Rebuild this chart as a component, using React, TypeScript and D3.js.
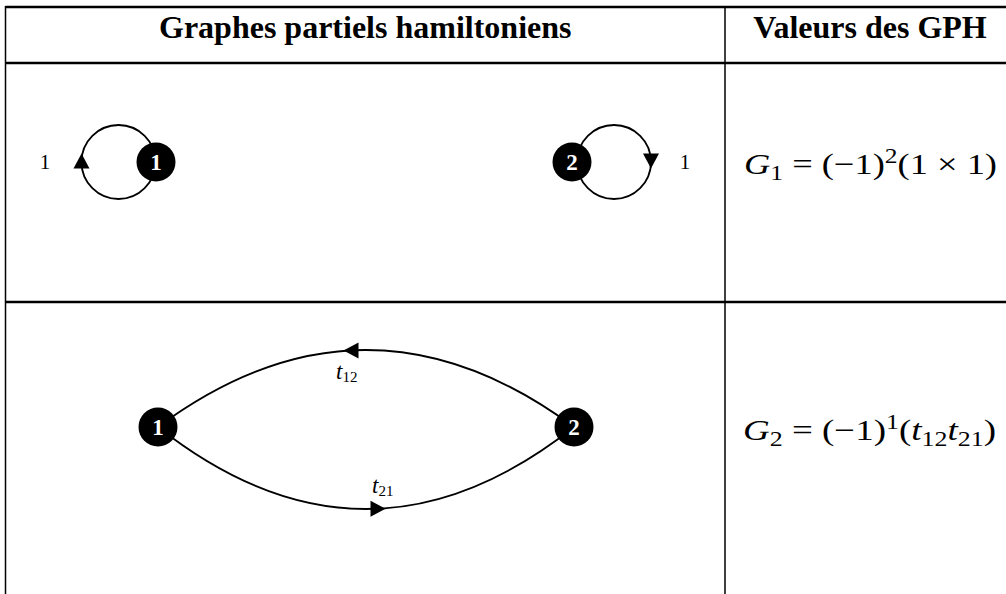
import React from "react";
import * as d3 from "d3";

// ---- data ----
const headers = ["Graphes partiels hamiltoniens", "Valeurs des GPH"];
const row1Nodes = ["1", "2"];
const row1LoopWeights = ["1", "1"];
const row2Nodes = ["1", "2"];
const row2Edges = [
  { from: "2", to: "1", name: "t", sub: "12", side: "top" },
  { from: "1", to: "2", name: "t", sub: "21", side: "bottom" },
];
const formulaNames = ["G", "G"];
const formulaSubs = ["1", "2"];
const formulaExps = ["2", "1"];

const W = 1006;
const H = 594;

// table layout
const xLeft = 5.5;
const xDiv = 725;
const xRight = 1015;
const yTop = 7;
const yHead = 63;
const yRow1 = 302;
const yBottom = 640;

const FONT = "'Liberation Serif', 'Times New Roman', serif";

function tri(cx: number, cy: number, dir: "up" | "down" | "left" | "right", w = 16, h = 15) {
  const p = d3.path();
  if (dir === "up") {
    p.moveTo(cx, cy - h / 2); p.lineTo(cx + w / 2, cy + h / 2); p.lineTo(cx - w / 2, cy + h / 2);
  } else if (dir === "down") {
    p.moveTo(cx, cy + h / 2); p.lineTo(cx + w / 2, cy - h / 2); p.lineTo(cx - w / 2, cy - h / 2);
  } else if (dir === "left") {
    p.moveTo(cx - h / 2, cy); p.lineTo(cx + h / 2, cy - w / 2); p.lineTo(cx + h / 2, cy + w / 2);
  } else {
    p.moveTo(cx + h / 2, cy); p.lineTo(cx - h / 2, cy - w / 2); p.lineTo(cx - h / 2, cy + w / 2);
  }
  p.closePath();
  return p.toString();
}

function Node({ x, y, label }: { x: number; y: number; label: string }) {
  return (
    <g>
      <circle cx={x} cy={y} r={19.5} fill="#000" />
      <text x={x} y={y + 8} textAnchor="middle" fill="#fff" fontFamily={FONT} fontWeight="bold" fontSize={23}>
        {label}
      </text>
    </g>
  );
}

function Formula({ x, y, idx, content }: { x: number; y: number; idx: number; content: React.ReactNode }) {
  return (
    <text x={x} y={y} fontFamily={FONT} fontSize={30} fill="#000" textLength={253} lengthAdjust="spacingAndGlyphs">
      <tspan fontStyle="italic">{formulaNames[idx]}</tspan>
      <tspan fontSize={21} dy={6}>{formulaSubs[idx]}</tspan>
      <tspan dy={-6}>{" = (\u22121)"}</tspan>
      <tspan fontSize={21} dy={-11}>{formulaExps[idx]}</tspan>
      <tspan dy={11}>{content}</tspan>
    </text>
  );
}

export default function App() {
  // row 1 geometry
  const r1y = 162;
  const loopR = 37;
  const loops = [
    { nx: 156, cx: 118.5, dir: "up" as const, side: -1, labelX: 45 },
    { nx: 572, cx: 614, dir: "down" as const, side: 1, labelX: 685 },
  ];

  // row 2 geometry
  const r2y = 427;
  const xs = d3.scaleOrdinal<string, number>().domain(row2Nodes).range([158, 574]);
  const topH = 77;
  const botH = 82;

  const arcs = row2Edges.map((e) => {
    const x1 = Math.min(xs(e.from), xs(e.to));
    const x2 = Math.max(xs(e.from), xs(e.to));
    const mx = (x1 + x2) / 2;
    const h = e.side === "top" ? -topH : botH;
    const cy = r2y + 2 * h;
    const p = d3.path();
    p.moveTo(x1, r2y);
    p.quadraticCurveTo(mx, cy, x2, r2y);
    const ax = e.side === "top" ? 351 : 378;
    const t = (ax - x1) / (x2 - x1);
    const ay = (1 - t) * (1 - t) * r2y + 2 * t * (1 - t) * cy + t * t * r2y;
    const dir = xs(e.to) < xs(e.from) ? "left" : "right";
    const lx = e.side === "top" ? 336 : 372;
    const ly = e.side === "top" ? 379 : 493;
    return { e, d: p.toString(), ax, ay, dir: dir as "left" | "right", lx, ly };
  });

  return (
    <svg width={W} height={H} style={{ position: "absolute", left: 0, top: 0, background: "#fff" }}>
      <rect x={0} y={0} width={W} height={H} fill="#fff" />
      {/* table lines */}
      <g stroke="#000">
        <line x1={xLeft} x2={xRight} y1={yTop} y2={yTop} strokeWidth={2.5} />
        <line x1={xLeft} x2={xRight} y1={yHead} y2={yHead} strokeWidth={2.5} />
        <line x1={xLeft} x2={xRight} y1={yRow1} y2={yRow1} strokeWidth={2.5} />
        <line x1={xLeft} x2={xLeft} y1={yTop - 1} y2={yBottom} strokeWidth={1.5} />
        <line x1={xDiv} x2={xDiv} y1={yTop - 1} y2={yBottom} strokeWidth={1.5} />
        <line x1={xRight} x2={xRight} y1={yTop - 1} y2={yBottom} strokeWidth={1.5} />
      </g>
      {/* headers */}
      <text x={(xLeft + xDiv) / 2} y={38} textAnchor="middle" fontFamily={FONT} fontWeight="bold" fontSize={32}>
        {headers[0]}
      </text>
      <text x={870} y={38} textAnchor="middle" fontFamily={FONT} fontWeight="bold" fontSize={32}>
        {headers[1]}
      </text>

      {/* row 1 : loops */}
      {loops.map((l, i) => (
        <g key={i}>
          <circle cx={l.cx} cy={r1y} r={loopR} fill="none" stroke="#000" strokeWidth={1.8} />
          <path d={tri(l.cx + l.side * loopR, r1y - 1, l.dir)} fill="#000" />
          <text x={l.labelX} y={r1y + 7} textAnchor="middle" fontFamily={FONT} fontSize={21}>
            {row1LoopWeights[i]}
          </text>
          <Node x={l.nx} y={r1y} label={row1Nodes[i]} />
        </g>
      ))}
      <Formula x={744} y={174} idx={0} content={"(1 \u00d7 1)"} />

      {/* row 2 : cycle */}
      {arcs.map((a, i) => (
        <g key={i}>
          <path d={a.d} fill="none" stroke="#000" strokeWidth={1.8} />
          <path d={tri(a.ax, a.ay, a.dir)} fill="#000" />
          <text x={a.lx} y={a.ly} fontFamily={FONT} fontSize={23}>
            <tspan fontStyle="italic">{a.e.name}</tspan>
            <tspan fontSize={15} dy={3}>{a.e.sub}</tspan>
          </text>
        </g>
      ))}
      {row2Nodes.map((n) => (
        <Node key={n} x={xs(n)} y={r2y} label={n} />
      ))}
      <Formula
        x={743}
        y={440}
        idx={1}
        content={
          <>
            {"("}
            <tspan fontStyle="italic">t</tspan>
            <tspan fontSize={21} dy={6}>12</tspan>
            <tspan fontStyle="italic" dy={-6}>t</tspan>
            <tspan fontSize={21} dy={6}>21</tspan>
            <tspan dy={-6}>{")"}</tspan>
          </>
        }
      />
    </svg>
  );
}
